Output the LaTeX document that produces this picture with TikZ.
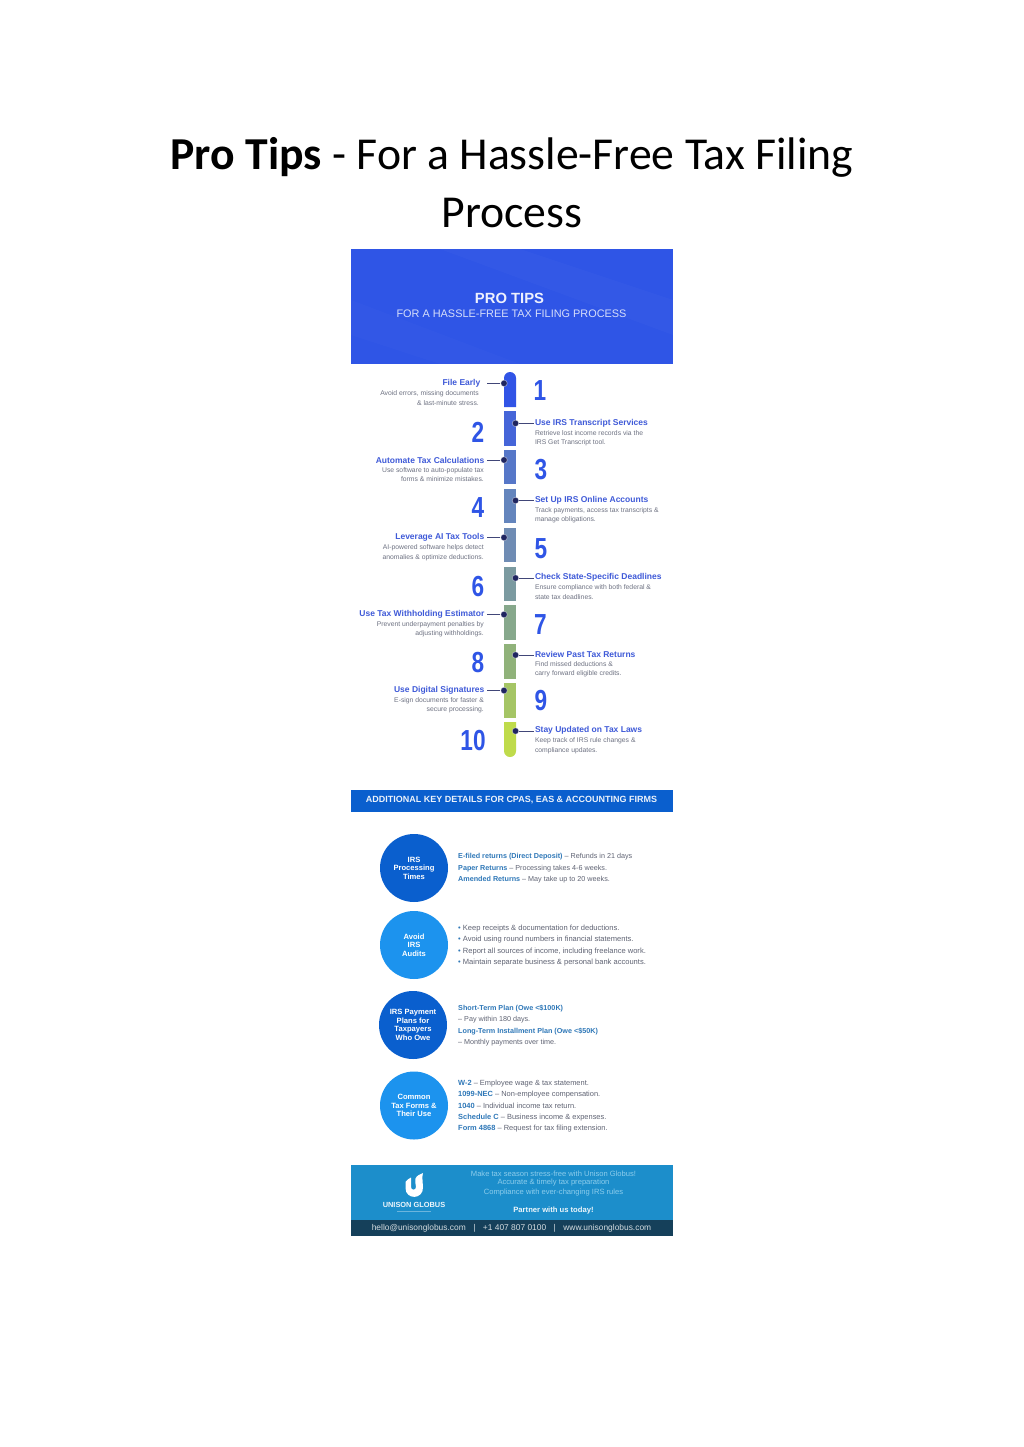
\documentclass[tikz,border=0pt]{standalone}
\usepackage{fontspec}
\setmainfont{Liberation Sans}
\newfontfamily\titlefont{Carlito}
\definecolor{bannerblue}{HTML}{2F55E6}
\definecolor{headblue}{HTML}{3F5AD8}
\definecolor{greytext}{HTML}{6E7282}
\definecolor{dotdark}{HTML}{1F2560}
\definecolor{darkcircle}{HTML}{0A5FCE}
\definecolor{lightcircle}{HTML}{1C93EE}
\definecolor{keyblue}{HTML}{2F78B8}
\definecolor{footblue}{HTML}{1C8ECB}
\definecolor{footdark}{HTML}{15405A}
\definecolor{footlight}{HTML}{8CCDEC}
\definecolor{bodytext}{HTML}{5F6373}
\tikzset{
  head/.style={inner sep=0pt,text=headblue,font=\fontsize{8.5}{10}\selectfont\bfseries},
  descl/.style={inner sep=0pt,text=greytext,align=right,anchor=north east,font=\fontsize{6.8}{9.6}\selectfont},
  descr/.style={inner sep=0pt,text=greytext,align=left,anchor=north west,font=\fontsize{6.8}{9.6}\selectfont},
  numb/.style={inner sep=0pt,text=bannerblue,font=\fontsize{29}{29}\selectfont\bfseries},
  dot/.style={circle,fill=dotdark,draw=white,draw opacity=.45,line width=.7pt,minimum size=6.5pt,inner sep=0pt},
  link/.style={draw=dotdark!85!white,line width=0.8pt},
  round/.style={circle,minimum size=68pt,inner sep=0pt,align=center,text=white,font=\fontsize{7.6}{8.6}\selectfont\bfseries},
  keyline/.style={inner sep=0pt,anchor=base west,text=bodytext,font=\fontsize{7.2}{8}\selectfont},
  keybul/.style={keyline,font=\fontsize{7.55}{8}\selectfont},
  keyform/.style={keyline,font=\fontsize{7.45}{8}\selectfont},
  footline/.style={inner sep=0pt,text=footlight,font=\fontsize{7.6}{8}\selectfont},
}
\newcommand{\nar}[1]{\scalebox{0.78}[1]{#1}}
\newcommand{\kw}[1]{\textcolor{keyblue}{\textbf{#1}}}
\begin{document}
\begin{tikzpicture}[x=1pt,y=-1pt]
\useasboundingbox (0,0) rectangle (1023,1447);
\fill[white] (0,0) rectangle (1023,1447);
% page title
\node[anchor=base,inner sep=0pt,font=\fontsize{45.7}{50}\selectfont\titlefont] (t1) at (512,170) {\textbf{Pro Tips} - For a Hassle-Free Tax Filing};
\node[anchor=base,inner sep=0pt,font=\fontsize{45.7}{50}\selectfont\titlefont] (t2) at (512,228) {Process};
% top banner
\fill[bannerblue] (351,249) rectangle (673,364);
\begin{scope}
\clip (351,249) rectangle (673,364);
\fill[white,opacity=.018] (440,249) -- (520,249) -- (673,300) -- (673,335) -- cycle;
\fill[white,opacity=.015] (351,300) -- (351,335) -- (440,364) -- (520,364) -- cycle;
\end{scope}
\node[inner sep=0pt,text=white!92!bannerblue,font=\fontsize{14.8}{16}\selectfont\bfseries] (bt) at (509.5,298.5) {PRO TIPS};
\node[inner sep=0pt,text=white!80!bannerblue,font=\fontsize{10.9}{13}\selectfont] (bs) at (511.5,314) {FOR A HASSLE-FREE TAX FILING PROCESS};
% timeline bar
\fill[color={rgb,255:red,49;green,84;blue,230}] (504,407) -- (504,378) arc[start angle=180,end angle=360,radius=6] -- (516,407) -- cycle;
\fill[color={rgb,255:red,69;green,101;blue,216}] (504,411) rectangle (516,445.5);
\fill[color={rgb,255:red,86;green,119;blue,200}] (504,449.5) rectangle (516,484);
\fill[color={rgb,255:red,100;green,133;blue,189}] (504,488.5) rectangle (516,523);
\fill[color={rgb,255:red,111;green,140;blue,180}] (504,528) rectangle (516,562);
\fill[color={rgb,255:red,123;green,154;blue,160}] (504,566.5) rectangle (516,601);
\fill[color={rgb,255:red,135;green,168;blue,140}] (504,605) rectangle (516,640);
\fill[color={rgb,255:red,144;green,178;blue,122}] (504,644) rectangle (516,679);
\fill[color={rgb,255:red,165;green,197;blue,101}] (504,683) rectangle (516,718);
\fill[color={rgb,255:red,191;green,219;blue,75}] (504,722) -- (516,722) -- (516,751) arc[start angle=0,end angle=180,radius=6] -- cycle;
% numbers
\node[numb] (n1) at (540,391) {\nar{1}};
\node[numb] (n2) at (478,432.5) {\nar{2}};
\node[numb] (n3) at (541,469.5) {\nar{3}};
\node[numb] (n4) at (478,508) {\nar{4}};
\node[numb] (n5) at (541,548.5) {\nar{5}};
\node[numb] (n6) at (478,587) {\nar{6}};
\node[numb] (n7) at (540.5,625) {\nar{7}};
\node[numb] (n8) at (478,663) {\nar{8}};
\node[numb] (n9) at (541,701) {\nar{9}};
\node[numb] (n10) at (473,740.5) {\nar{10}};
% left items
\node[head,anchor=east] (h1) at (480.5,383.5) {File Early};
\node[descl] (d1) at (479,390.5) {Avoid errors, missing documents\\\& last-minute stress.};
\node[dot] (p1) at (504,383.3) {};
\coordinate (c1) at (487,383.3);
\draw[link] (c1) -- (p1);
\node[head,anchor=east] (h3) at (484.5,460) {Automate Tax Calculations};
\node[descl] (d3) at (484,467) {Use software to auto-populate tax\\forms \& minimize mistakes.};
\node[dot] (p3) at (504,460) {};
\coordinate (c3) at (487,460);
\draw[link] (c3) -- (p3);
\node[head,anchor=east] (h5) at (484.5,537.5) {Leverage AI Tax Tools};
\node[descl] (d5) at (484,544.5) {AI-powered software helps detect\\anomalies \& optimize deductions.};
\node[dot] (p5) at (504,537.5) {};
\coordinate (c5) at (487,537.5);
\draw[link] (c5) -- (p5);
\node[head,anchor=east] (h7) at (484.5,614) {Use Tax Withholding Estimator};
\node[descl] (d7) at (484,621) {Prevent underpayment penalties by\\adjusting withholdings.};
\node[dot] (p7) at (504,614.5) {};
\coordinate (c7) at (487,614.5);
\draw[link] (c7) -- (p7);
\node[head,anchor=east] (h9) at (484.5,690) {Use Digital Signatures};
\node[descl] (d9) at (484,697) {E-sign documents for faster \&\\secure processing.};
\node[dot] (p9) at (504,690.5) {};
\coordinate (c9) at (487,690.5);
\draw[link] (c9) -- (p9);
% right items
\node[head,anchor=west] (h2) at (534.8,423) {Use IRS Transcript Services};
\node[descr] (d2) at (534.8,430) {Retrieve lost income records via the\\IRS Get Transcript tool.};
\node[dot] (p2) at (515.5,423.3) {};
\coordinate (c2) at (534,423.3);
\draw[link] (p2) -- (c2);
\node[head,anchor=west] (h4) at (534.8,500) {Set Up IRS Online Accounts};
\node[descr] (d4) at (534.8,507) {Track payments, access tax transcripts \&\\manage obligations.};
\node[dot] (p4) at (515.5,500.5) {};
\coordinate (c4) at (534,500.5);
\draw[link] (p4) -- (c4);
\node[head,anchor=west] (h6) at (534.8,577.5) {Check State-Specific Deadlines};
\node[descr] (d6) at (534.8,584.5) {Ensure compliance with both federal \&\\state tax deadlines.};
\node[dot] (p6) at (515.5,578) {};
\coordinate (c6) at (534,578);
\draw[link] (p6) -- (c6);
\node[head,anchor=west] (h8) at (534.8,654) {Review Past Tax Returns};
\node[descr] (d8) at (534.8,661) {Find missed deductions \&\\carry forward eligible credits.};
\node[dot] (p8) at (515.5,655) {};
\coordinate (c8) at (534,655);
\draw[link] (p8) -- (c8);
\node[head,anchor=west] (h10) at (534.8,730.5) {Stay Updated on Tax Laws};
\node[descr] (d10) at (534.8,737.5) {Keep track of IRS rule changes \&\\compliance updates.};
\node[dot] (p10) at (515.5,731) {};
\coordinate (c10) at (534,731);
\draw[link] (p10) -- (c10);
% additional details band
\fill[darkcircle] (351,790) rectangle (673,812);
\node[inner sep=0pt,text=white!92!darkcircle,font=\fontsize{8.98}{10}\selectfont\bfseries] (kb) at (511.5,800.5) {ADDITIONAL KEY DETAILS FOR CPAS, EAS \& ACCOUNTING FIRMS};
% circles
\node[round,fill=darkcircle] (r1) at (414,868) {IRS\\Processing\\Times};
\node[round,fill=lightcircle] (r2) at (414,945) {Avoid\\IRS\\Audits};
\node[round,fill=darkcircle] (r3) at (413,1025) {IRS Payment\\Plans for\\Taxpayers\\Who Owe};
\node[round,fill=lightcircle] (r4) at (414,1105.5) {Common\\Tax Forms \&\\Their Use};
% key lines
\node[keyline] (k11) at (458,858.5) {\kw{E-filed returns (Direct Deposit)} -- Refunds in 21 days};
\node[keyline] (k12) at (458,870) {\kw{Paper Returns} -- Processing takes 4-6 weeks.};
\node[keyline] (k13) at (458,881) {\kw{Amended Returns} -- May take up to 20 weeks.};
\node[keybul] (k21) at (458,930.5) {\textcolor{keyblue}{•} Keep receipts \& documentation for deductions.};
\node[keybul] (k22) at (458,941.5) {\textcolor{keyblue}{•} Avoid using round numbers in financial statements.};
\node[keybul] (k23) at (458,953) {\textcolor{keyblue}{•} Report all sources of income, including freelance work.};
\node[keybul] (k24) at (458,964) {\textcolor{keyblue}{•} Maintain separate business \& personal bank accounts.};
\node[keyline] (k31) at (458,1010.5) {\kw{Short-Term Plan (Owe <\$100K)}};
\node[keyline] (k32) at (458,1021.5) {-- Pay within 180 days.};
\node[keyline] (k33) at (458,1033) {\kw{Long-Term Installment Plan (Owe <\$50K)}};
\node[keyline] (k34) at (458,1044.5) {-- Monthly payments over time.};
\node[keyform] (k41) at (458,1085) {\kw{W-2} -- Employee wage \& tax statement.};
\node[keyform] (k42) at (458,1096.5) {\kw{1099-NEC} -- Non-employee compensation.};
\node[keyform] (k43) at (458,1108) {\kw{1040} -- Individual income tax return.};
\node[keyform] (k44) at (458,1119) {\kw{Schedule C} -- Business income \& expenses.};
\node[keyform] (k45) at (458,1130.5) {\kw{Form 4868} -- Request for tax filing extension.};
% footer
\fill[footblue] (351,1165) rectangle (673,1220);
\fill[footdark] (351,1220) rectangle (673,1236);
\fill[white] (405.5,1182) .. controls (406.5,1180) and (409,1178.5) .. (411,1177.5) -- (411,1187) .. controls (411,1190.5) and (416,1190.5) .. (416,1187) .. controls (416,1184) and (414.5,1182) .. (415.5,1178.5) .. controls (416.5,1175.5) and (420,1174.5) .. (423,1173) .. controls (422,1176) and (422.5,1180) .. (423,1187) .. controls (423.5,1200) and (405.5,1200) .. (405.5,1188) -- cycle;
\node[inner sep=0pt,text=white!92!footblue,font=\fontsize{7.4}{8}\selectfont\bfseries] (lg) at (414,1205) {UNISON GLOBUS};
\fill[white,opacity=.35] (397,1210.5) rectangle (431,1211.5);
\node[footline] (f1) at (553.5,1173.5) {Make tax season stress-free with Unison Globus!};
\node[footline] (f2) at (553.5,1183) {Accurate \& timely tax preparation};
\node[footline] (f3) at (553.5,1192.5) {Compliance with ever-changing IRS rules};
\node[inner sep=0pt,text=white!92!footblue,font=\fontsize{7.64}{8}\selectfont\bfseries] (f4) at (553.5,1210.5) {Partner with us today!};
\node[inner sep=0pt,text=white!82!footdark,font=\fontsize{8.4}{8}\selectfont] (f5) at (511.5,1228) {hello@unisonglobus.com\hspace{7.5pt}|\hspace{7.5pt}+1 407 807 0100\hspace{7.5pt}|\hspace{7.5pt}www.unisonglobus.com};
\end{tikzpicture}
\end{document}
